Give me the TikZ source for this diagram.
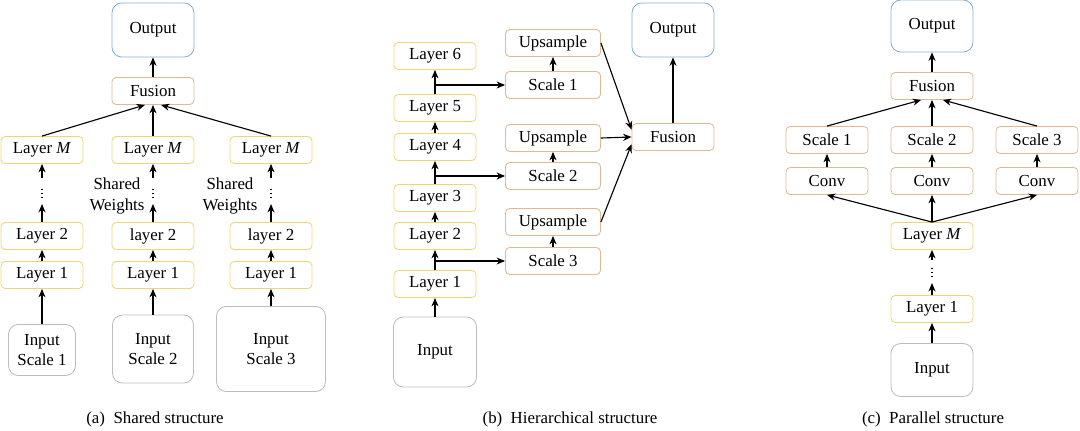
\documentclass[tikz,border=0pt]{standalone}
\usepackage{fontspec}
\setmainfont{Liberation Serif}
\usetikzlibrary{arrows.meta}

\definecolor{layeryellow}{RGB}{238,214,120}
\definecolor{stageorange}{RGB}{224,184,146}
\definecolor{outblue}{RGB}{132,176,214}
\definecolor{ingray}{RGB}{188,188,188}

\begin{document}
\begin{tikzpicture}[x=0.025cm, y=-0.025cm, font=\fontsize{12}{14.5}\selectfont,
  box/.style={draw, rounded corners=3pt, line width=0.6pt, minimum width=2.05cm, minimum height=0.675cm, inner sep=0pt},
  layer/.style={box, draw=layeryellow},
  stage/.style={box, draw=stageorange},
  outbox/.style={box, draw=outblue, rounded corners=7pt, minimum height=1.35cm},
  inbox/.style={box, draw=ingray, rounded corners=7pt, align=center},
  note/.style={align=center, inner sep=0pt, font=\fontsize{12}{15}\selectfont},
  arr/.style={-{Stealth[length=6pt, width=5pt]}, line width=0.8pt},
  gap/.style={dotted, line width=0.9pt, shorten <=0.15cm, shorten >=0.2cm}]

  \useasboundingbox (0,0) rectangle (1080,430);

  % (a) Shared structure
  \node[outbox] (outA) at (153,30) {Output};
  \node[stage] (fusA) at (153,91) {Fusion};

  \node[layer] (lmA1) at (42,150) {Layer \textit{M}};
  \node[layer] (l2A1) at (42,236) {Layer 2};
  \node[layer] (l1A1) at (42,275) {Layer 1};
  \node[inbox, minimum width=1.675cm, minimum height=1.275cm] (inA1) at (42,350) {Input\\Scale 1};

  \node[layer] (lmA2) at (153,150) {Layer \textit{M}};
  \node[layer] (l2A2) at (153,236) {layer 2};
  \node[layer] (l1A2) at (153,275) {Layer 1};
  \node[inbox, minimum width=2.025cm, minimum height=1.7cm] (inA2) at (153,349) {Input\\Scale 2};

  \node[layer] (lmA3) at (271,150) {Layer \textit{M}};
  \node[layer] (l2A3) at (271,236) {layer 2};
  \node[layer] (l1A3) at (271,275) {Layer 1};
  \node[inbox, minimum width=2.725cm, minimum height=2.125cm] (inA3) at (271,349) {Input\\Scale 3};

  \node[note] (swA2) at (117,196) {Shared\\Weights};
  \node[note] (swA3) at (230,196) {Shared\\Weights};

  \coordinate (loA1) at (42,204);
  \coordinate (hiA1) at (42,178);
  \coordinate (loA2) at (153,204);
  \coordinate (hiA2) at (153,178);
  \coordinate (loA3) at (271,204);
  \coordinate (hiA3) at (271,178);

  % vertical arrows
  \draw[arr] (inA1) -- (l1A1);
  \draw[arr] (l1A1) -- (l2A1);
  \draw[arr] (l2A1) -- (loA1);
  \draw[gap] (loA1) -- (hiA1);
  \draw[arr] (hiA1) -- (lmA1);
  \draw[arr] (inA2) -- (l1A2);
  \draw[arr] (l1A2) -- (l2A2);
  \draw[arr] (l2A2) -- (loA2);
  \draw[gap] (loA2) -- (hiA2);
  \draw[arr] (hiA2) -- (lmA2);
  \draw[arr] (inA3) -- (l1A3);
  \draw[arr] (l1A3) -- (l2A3);
  \draw[arr] (l2A3) -- (loA3);
  \draw[gap] (loA3) -- (hiA3);
  \draw[arr] (hiA3) -- (lmA3);

  % into fusion
  \draw[arr] (lmA1.north) -- (fusA.240);
  \draw[arr] (lmA2) -- (fusA);
  \draw[arr] (lmA3.north) -- (fusA.300);
  \draw[arr] (fusA) -- (outA);

  \node (capA) at (155,419) {(a)\ \ Shared structure};

  % (b) Hierarchical structure
  \node[outbox] (outB) at (673,30) {Output};
  \node[stage] (fusB) at (673,137) {Fusion};

  \node[layer] (l1B) at (435,284) {Layer 1};
  \node[layer] (l2B) at (435,236) {Layer 2};
  \node[layer] (l3B) at (435,198) {Layer 3};
  \node[layer] (l4B) at (435,147) {Layer 4};
  \node[layer] (l5B) at (435,108) {Layer 5};
  \node[layer] (l6B) at (435,56) {Layer 6};
  \node[inbox, minimum width=2.075cm, minimum height=1.75cm] (inB) at (435,352) {Input};

  \node[stage, minimum width=2.375cm] (sc1B) at (553,85) {Scale 1};
  \node[stage, minimum width=2.375cm] (up1B) at (553,43) {Upsample};
  \node[stage, minimum width=2.375cm] (sc2B) at (553,176) {Scale 2};
  \node[stage, minimum width=2.375cm] (up2B) at (553,138) {Upsample};
  \node[stage, minimum width=2.375cm] (sc3B) at (553,261) {Scale 3};
  \node[stage, minimum width=2.375cm] (up3B) at (553,222) {Upsample};

  \coordinate (br1B) at (l5B.north |- sc1B.west);
  \coordinate (br2B) at (l3B.north |- sc2B.west);
  \coordinate (br3B) at (l1B.north |- sc3B.west);

  % backbone
  \draw[arr] (inB) -- (l1B);
  \draw[arr] (l1B) -- (l2B);
  \draw[arr] (l2B) -- (l3B);
  \draw[arr] (l3B) -- (l4B);
  \draw[arr] (l4B) -- (l5B);
  \draw[arr] (l5B) -- (l6B);

  % branches
  \draw[arr] (br1B) -- (sc1B.west);
  \draw[arr] (br2B) -- (sc2B.west);
  \draw[arr] (br3B) -- (sc3B.west);
  \draw[arr] (sc1B) -- (up1B);
  \draw[arr] (sc2B) -- (up2B);
  \draw[arr] (sc3B) -- (up3B);

  % into fusion
  \draw[arr] (up1B.east) -- (fusB.170);
  \draw[arr] (up2B.east) -- (fusB.west);
  \draw[arr] (up3B.east) -- (fusB.190);
  \draw[arr] (fusB) -- (outB);

  \node (capB) at (570,419) {(b)\ \ Hierarchical structure};

  % (c) Parallel structure
  \node[outbox, minimum height=1.3cm] (outC) at (932,26) {Output};
  \node[stage] (fusC) at (932,86) {Fusion};

  \node[stage] (sc1C) at (827,140) {Scale 1};
  \node[stage] (sc2C) at (932,140) {Scale 2};
  \node[stage] (sc3C) at (1037,140) {Scale 3};
  \node[stage] (cv1C) at (827,181) {Conv};
  \node[stage] (cv2C) at (932,181) {Conv};
  \node[stage] (cv3C) at (1037,181) {Conv};

  \node[layer] (lmC) at (932,236) {Layer \textit{M}};
  \node[layer] (l1C) at (932,309) {Layer 1};
  \node[inbox, minimum height=1.325cm] (inC) at (932,370) {Input};

  \coordinate (loC) at (932,283);
  \coordinate (hiC) at (932,260);

  % backbone
  \draw[arr] (inC) -- (l1C);
  \draw[arr] (l1C) -- (loC);
  \draw[gap] (loC) -- (hiC);
  \draw[arr] (hiC) -- (lmC);

  % split
  \draw[arr] (lmC.north) -- (cv1C.south);
  \draw[arr] (lmC) -- (cv2C);
  \draw[arr] (lmC.north) -- (cv3C.south);
  \draw[arr] (cv1C) -- (sc1C);
  \draw[arr] (cv2C) -- (sc2C);
  \draw[arr] (cv3C) -- (sc3C);

  % into fusion
  \draw[arr] (sc1C.north) -- (fusC.232);
  \draw[arr] (sc2C) -- (fusC);
  \draw[arr] (sc3C.north) -- (fusC.308);
  \draw[arr] (fusC) -- (outC);

  \node (capC) at (933,419) {(c)\ \ Parallel structure};

\end{tikzpicture}
\end{document}
